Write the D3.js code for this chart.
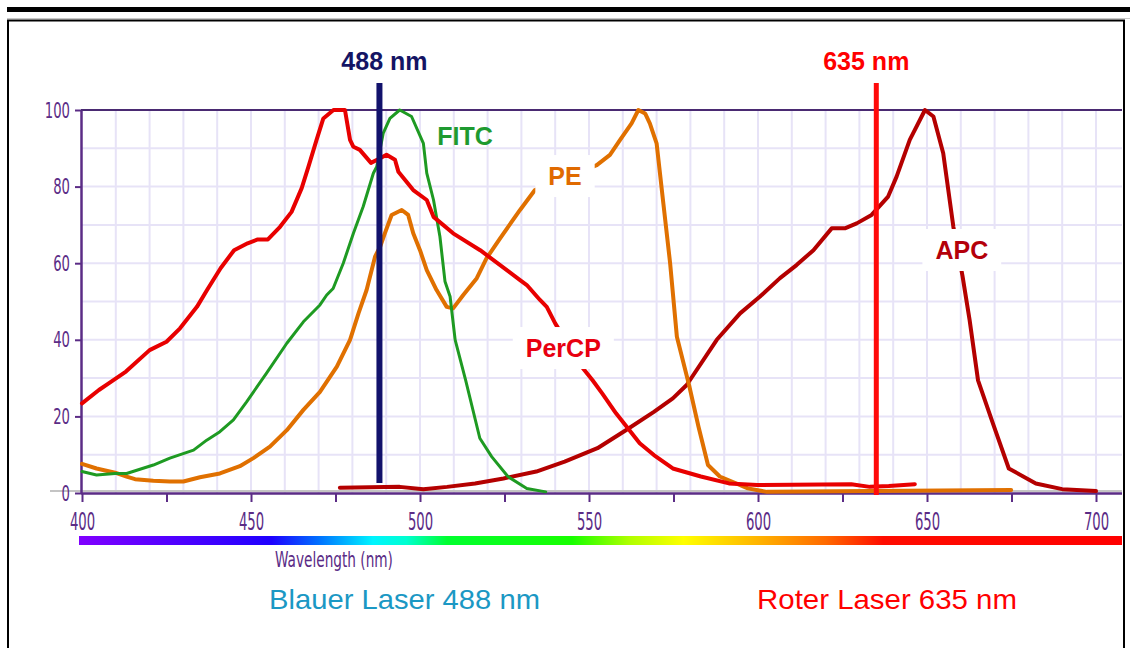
<!DOCTYPE html>
<html><head><meta charset="utf-8">
<script src="https://cdn.jsdelivr.net/npm/d3@7"></script>
<style>html,body{margin:0;padding:0;background:#fff;} svg{display:block}</style>
</head><body><svg id="chart" width="1130" height="648"></svg>
<script>
// ---- data ----
const xTickValues = [400,425,450,475,500,525,550,575,600,625,650,675,700];
const yTickValues = [0,20,40,60,80,100];

const percpNm  = [400,405,408,413,420,425,429,434,437,441,445,449,452,455,458.6,462,465,467,469.4,471.4,474.4,477.8,479.3,480.3,482.2,485.5,488.2,490.1,492.6,493.6,498,502,504,509.8,517.8,529.6,531.6,535.5,537.5,540,548.2,551,553.9,558,565,569.2,574.8,583.1,591.4,599.8,627.6,633.1,638.7,646.4];
const percpVal = [23.4,26.9,28.7,31.7,37.3,39.5,43,48.6,53,58.7,63.4,65.2,66.2,66.2,69.5,73.4,79.6,85.2,92.2,97.8,100,100,92.2,90.4,89.6,86.2,87.4,88.3,87,83.9,79.1,76.5,72.1,67.8,63.4,55.6,54.3,50.4,48.6,44.3,32.6,29.5,26,20.8,13,9.9,6.4,4.3,2.5,2.1,2.3,1.6,1.8,2.3];

const fitcNm  = [400,404.3,409.8,413.2,421.1,426,433,436.9,440.8,444.8,448.7,454.6,460.6,465.5,470.4,472.4,474.3,477.3,480.3,483.2,486.2,487.2,489.1,491.1,494,497.5,501,502,504,505.9,507.4,508.9,510.4,513.5,517.7,521.2,526,531.6,537.2];
const fitcVal = [5.6,4.7,5.1,5.1,7.3,9.1,11.2,13.8,16,19.1,23.8,31.3,39.1,44.7,49.1,51.7,53.4,60,67.8,74.8,83.5,85.2,93.9,97.8,100,98.3,91.3,83.5,76.5,66.9,55.2,51.3,40,29.5,14.3,9.5,4.3,1.2,0.3];

const peNm  = [400,404.3,409.8,413.2,415.7,421.1,426,430,434.9,440.8,446.7,450.7,455.6,460.6,465.5,470.4,475.4,479.3,481.8,484.2,486.7,488.2,489.6,491.6,494.6,496.5,498,500,502,504.9,507.9,509.8,512.8,516.8,519.7,523.7,529.6,534,552.3,556.2,559.2,562.6,564.6,566.6,568,570,572,574,576,579.6,582.4,585.2,588.7,597,602.6,674.9];
const peVal = [7.6,6.4,5.3,4.3,3.6,3.2,3,3,4.1,5.1,7,9.1,12.1,16.4,21.7,26.4,33,40,46.9,53,61.7,64.3,67.8,72.6,73.9,72.6,67.8,63.4,58.2,53,48.6,48.2,51.7,56.1,61.3,66.5,73.9,79.1,85.6,88.3,92.2,96.5,100,99.1,96.5,91.3,75.6,60,40.8,28.2,17.3,7.3,4.3,1.2,0.3,0.8];

const apcNm  = [476.3,494,501,508,516.3,524.7,534.4,542.8,552.5,560.9,569.2,574.8,578.9,587.8,594.7,600.6,606.5,611.4,616.4,621.8,625.7,629.2,633.6,638.5,641,644.9,649.4,651.9,654.8,657.8,660.5,662.6,665.1,669.6,674.2,682.2,690,700];
const apcVal = [1.4,1.6,1,1.6,2.5,3.8,5.6,8.2,11.7,16.4,21.2,24.7,28.2,40,46.9,51.3,56.1,59.5,63.4,69.1,69.1,70.4,72.6,77.4,82.6,92.2,100,98.3,88.7,69.5,56.7,45.2,29.4,17.9,6.4,2.5,1,0.5];

const labelNames = ['FITC','PE','PerCP','APC'];
const labelNm    = [513.3,542.9,542.4,660.3];
const labelVal   = [90.9,80.4,35.5,61.1];

const laserNm = [488,635];
const laserLabels = ['488 nm','635 nm'];
const bottomTexts = ['Blauer Laser 488 nm','Roter Laser 635 nm'];

// ---- setup ----
const svg = d3.select('#chart');
const x = d3.scaleLinear().domain([400,700]).range([82,1096]);
const y = d3.scaleLinear().domain([0,100]).range([493,110]);
const plotLeft = 81, plotRight = 1122;
const purple = '#5b2c86';
const narrow = "'Liberation Sans Narrow','DejaVu Sans Condensed','Arial Narrow',sans-serif";
const bold = "'Liberation Sans',Arial,sans-serif";

// squeeze text horizontally to a target width, keeping its height
function squeeze(sel, targetFn){
  sel.each(function(d,i){
    const n = this;
    const target = targetFn(n.textContent, d, i);
    if(!target) return;
    const w = n.getComputedTextLength();
    if(!w) return;
    const s = target / w;
    const xa = parseFloat(n.getAttribute('x')) || 0;
    n.setAttribute('x', xa / s);
    n.setAttribute('transform', `scale(${s},1)`);
  });
}

// frame
svg.append('rect').attr('x',7).attr('y',7).attr('width',1123).attr('height',5).attr('fill','#000');
svg.append('line').attr('x1',7).attr('x2',1130).attr('y1',18.5).attr('y2',18.5).attr('stroke','#c8c8c8').attr('stroke-width',1);
svg.append('rect').attr('x',8).attr('y',20.5).attr('width',1116).attr('height',700)
  .attr('fill','none').attr('stroke','#000').attr('stroke-width',2);

// grid
const grid = svg.append('g');
d3.range(410,701,10).forEach(v=>{
  grid.append('line').attr('x1',x(v)).attr('x2',x(v)).attr('y1',y(100)).attr('y2',y(0))
    .attr('stroke','#e7e3f7').attr('stroke-width',2);
});
d3.range(10,100,10).forEach(v=>{
  grid.append('line').attr('x1',plotLeft).attr('x2',plotRight).attr('y1',y(v)).attr('y2',y(v))
    .attr('stroke','#e7e3f7').attr('stroke-width',2);
});

// top border line
svg.append('line').attr('x1',plotLeft).attr('x2',plotRight).attr('y1',y(100)).attr('y2',y(100))
  .attr('stroke','#4a2a72').attr('stroke-width',2);
// gray baseline
svg.append('line').attr('x1',50).attr('x2',plotRight).attr('y1',y(0)-2).attr('y2',y(0)-2)
  .attr('stroke','#c4c4c4').attr('stroke-width',2);

// x axis
const xAxis = d3.axisBottom(x).tickValues(xTickValues).tickSize(9).tickSizeOuter(0).tickPadding(12)
  .tickFormat(d => d % 50 === 0 ? String(d) : '');
const gx = svg.append('g').attr('transform',`translate(0,${y(0)})`).call(xAxis);
gx.select('.domain').remove();
gx.append('line').attr('x1',plotLeft).attr('x2',plotRight).attr('y1',0.5).attr('y2',0.5).attr('stroke',purple).attr('stroke-width',2.5);
gx.selectAll('.tick line').attr('stroke',purple).attr('stroke-width',2);
const xt = gx.selectAll('.tick text').attr('fill',purple).attr('font-family',narrow).attr('font-size',24)
  .attr('y',20).attr('dy','0.72em');
squeeze(xt, t => t ? t.length*8.4 : 0);

// y axis
const yAxis = d3.axisLeft(y).tickValues(yTickValues).tickSize(6).tickSizeOuter(0).tickPadding(5);
const gy = svg.append('g').attr('transform',`translate(${plotLeft},0)`).call(yAxis);
gy.select('.domain').attr('stroke',purple).attr('stroke-width',2.5);
gy.selectAll('.tick line').attr('stroke',purple).attr('stroke-width',2);
const yt = gy.selectAll('.tick text').attr('fill',purple).attr('font-family',narrow).attr('font-size',22);
squeeze(yt, t => t.length*8.4);

// spectrum bar
const defs = svg.append('defs');
const barX0 = 79, barX1 = plotRight;
const grad = defs.append('linearGradient').attr('id','spec').attr('gradientUnits','userSpaceOnUse')
  .attr('x1',barX0).attr('x2',barX1).attr('y1',0).attr('y2',0);
const specStops = [[400,'#7f00ff'],[445,'#3200ff'],[456,'#1e00ff'],[470,'#0070ff'],[486,'#00f4ff'],[496,'#00ffd0'],[508,'#00ff30'],[545,'#18ff00'],[562,'#b0ff00'],[578,'#ffff00'],[600,'#ffb400'],[620,'#ff6a00'],[637,'#ff0c00'],[708,'#ff0000']];
specStops.forEach(([nm,c])=>{
  grad.append('stop').attr('offset',((x(nm)-barX0)/(barX1-barX0)*100).toFixed(2)+'%').attr('stop-color',c);
});
svg.append('rect').attr('x',barX0).attr('y',536).attr('width',barX1-barX0).attr('height',9).attr('fill','url(#spec)');
const wl = svg.append('text').attr('x',334).attr('y',567).attr('text-anchor','middle').attr('fill',purple)
  .attr('font-family',narrow).attr('font-size',21).text('Wavelength (nm)');
squeeze(wl, () => 118);

// curves
const line = d3.line().x(d=>x(d[0])).y(d=>y(d[1]));
const series = [
  {nm:apcNm, v:apcVal, c:'#b40000', w:4},
  {nm:peNm, v:peVal, c:'#e07000', w:4},
  {nm:fitcNm, v:fitcVal, c:'#1e9a22', w:3},
  {nm:percpNm, v:percpVal, c:'#e80000', w:4}
];
series.forEach(s=>{
  svg.append('path').attr('d',line(d3.zip(s.nm,s.v))).attr('fill','none')
    .attr('stroke',s.c).attr('stroke-width',s.w).attr('stroke-linejoin','round').attr('stroke-linecap','round');
});

// laser lines
const laserColors = ['#12126c','#ff0a0a'];
const laserWidths = [6,5];
const laserBottoms = [483,495];
const laserLabelDx = [5,-10];
laserNm.forEach((nm,i)=>{
  svg.append('line').attr('x1',x(nm)).attr('x2',x(nm)).attr('y1',83).attr('y2',laserBottoms[i])
    .attr('stroke',laserColors[i]).attr('stroke-width',laserWidths[i]);
  svg.append('text').attr('x',x(nm)+laserLabelDx[i]).attr('y',70).attr('text-anchor','middle')
    .attr('fill', i===0 ? '#141464' : '#ff0000').attr('font-family',bold).attr('font-weight','bold')
    .attr('font-size',25).text(laserLabels[i]);
});

// curve labels
const labelColors = ['#1e9a30','#e06a00','#e80010','#b4000a'];
const labelBoxed = [false,true,true,true];
labelNames.forEach((name,i)=>{
  const g = svg.append('g');
  const t = g.append('text').attr('x',x(labelNm[i])).attr('y',y(labelVal[i])).attr('text-anchor','middle')
    .attr('fill',labelColors[i]).attr('font-family',bold).attr('font-weight','bold').attr('font-size',25).text(name);
  if(labelBoxed[i]){
    const bb = t.node().getBBox();
    g.insert('rect','text').attr('x',bb.x-13).attr('y',bb.y-7).attr('width',bb.width+26).attr('height',bb.height+14).attr('fill','#fff');
  }
});

// bottom texts
const bottomX = [404.5,887];
const bottomColors = ['#1b98c4','#ff0000'];
const bottomLen = [271,260];
bottomTexts.forEach((t,i)=>{
  const el = svg.append('text').attr('x',bottomX[i]).attr('y',609).attr('text-anchor','middle')
    .attr('fill',bottomColors[i]).attr('font-family',bold).attr('font-size',27).text(t);
  squeeze(el, () => bottomLen[i]);
});
</script></body></html>
